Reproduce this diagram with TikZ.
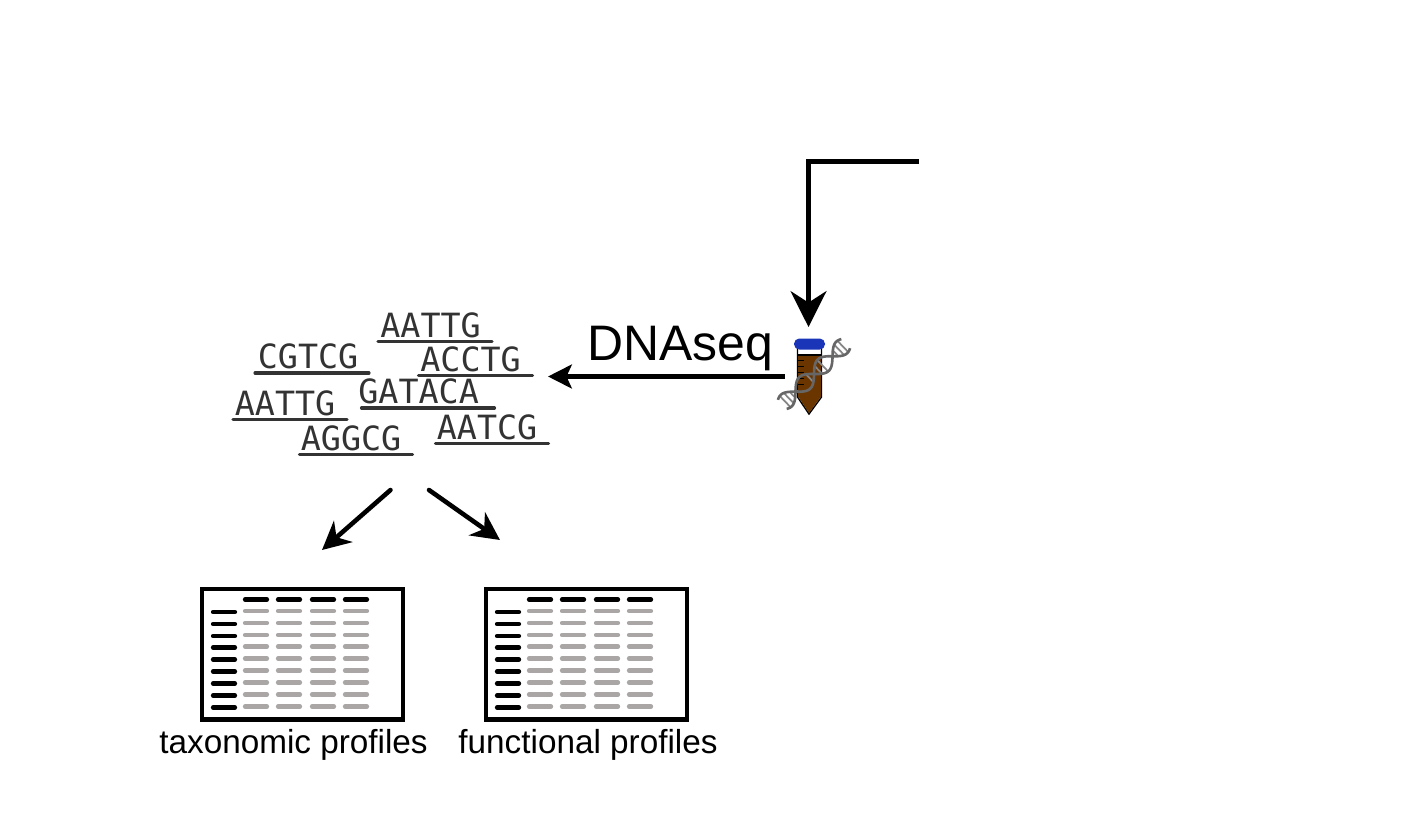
\documentclass[tikz,border=0pt]{standalone}
\usepackage{fontspec}
\setmainfont{Liberation Sans}
\newfontfamily\seqfont{DejaVu Sans Mono}
\usetikzlibrary{arrows.meta,positioning}
\definecolor{capblue}{HTML}{1A35B8}
\definecolor{tubebrown}{HTML}{6B3500}
\definecolor{rowgray}{HTML}{AAA6A6}
\definecolor{helixgray}{HTML}{666666}
\definecolor{seqgray}{HTML}{333333}
\tikzset{
  flow/.style={black,line width=2.6pt,line cap=round},
  rowmark/.style={line width=2.4pt,line cap=round},
  seqtext/.style={inner sep=0pt,anchor=base west,text=seqgray,font=\seqfont\fontsize{19}{19}\selectfont},
  seqline/.style={seqgray,line width=1.8pt,line cap=round},
  caption/.style={inner sep=0pt,anchor=base,font=\fontsize{18.95}{18.95}\selectfont},
  tablebox/.style={draw=black,line width=2.6pt,inner sep=0pt,outer sep=0pt,minimum width=114.5pt,minimum height=74.3pt,anchor=north west}
}
\begin{document}
\begin{tikzpicture}[x=0.02cm,y=-0.02cm]
\useasboundingbox (0,0) rectangle (1405,839);
% top elbow
\coordinate (source) at (919,161.5);
\coordinate (elbow) at (808.5,161.5);
\coordinate (tubetop) at (808.5,327);
\draw [flow,line cap=butt,-{Stealth[length=20.4pt,width=20.4pt,inset=6.5pt]}] (source) -- (elbow) -- (tubetop);
% tube
\draw [black,fill=white,line width=0.8pt] (797.5,345) -- (797.5,397) -- (809,414) -- (821.5,397) -- (821.5,345) -- cycle;
\fill [tubebrown] (798,355) -- (798,396.5) -- (809,413) -- (821,396.5) -- (821,355) -- cycle;
\foreach \y in {360,366,372,378,384} \draw [black,line width=0.5pt] (798,\y) -- (804,\y);
\draw [black,line width=0.8pt] (797.5,355) -- (821.5,355);
\fill [capblue,rounded corners=3pt] (794,338.5) rectangle (825,349.5);
% helix
\foreach \r in {-40,-35,-30,-24,-6,0,6,12,30,35,40}
  \draw [helixgray!80,line width=1pt] ({814+\r*0.72+8*sin(\r*7)*0.69},{374-\r*0.69+8*sin(\r*7)*0.72}) -- ({814+\r*0.72-8*sin(\r*7)*0.69},{374-\r*0.69-8*sin(\r*7)*0.72});
\foreach \s in {1,-1}
  \draw [helixgray,line width=1.5pt] plot [smooth,domain=-44:44,samples=50] ({814+\x*0.72+\s*8*sin(\x*7)*0.69},{374-\x*0.69+\s*8*sin(\x*7)*0.72});
% sequencing arrow
\coordinate (tubeleft) at (785,376.5);
\coordinate (readsright) at (548,376.5);
\draw [flow,line cap=butt,-{Stealth[length=13.5pt,width=13.5pt,inset=3pt]}] (tubeleft) -- (readsright);
\node (dnaseq) [inner sep=0pt,anchor=base,font=\fontsize{28.4}{28.4}\selectfont] at (680,360) {DNAseq};
% reads
\foreach \name/\seq/\xa/\ya/\xb/\yb/\len in {a/AATTG/380/337.5/378/341.5/114,b/CGTCG/257.5/368.5/255/373/114,c/ACCTG/420/371.5/418.5/375.5/114,d/GATACA/358/403.5/361.5/408/133,e/AATTG/234.5/415.5/233/419.5/114,f/AGGCG/300.5/450.5/299.5/454.5/113,g/AATCG/436.5/439.5/435.5/443.5/113}{
  \node (read\name) [seqtext] at (\xa,\ya) {\seq};
  \draw [seqline] (\xb,\yb) -- ++(\len,0);
}
% split
\coordinate (splita) at (390.5,490);
\coordinate (splitb) at (429,490);
\coordinate (taxhead) at (322,550);
\coordinate (funchead) at (500,540);
\draw [flow,-{Stealth[length=16pt,width=16pt,inset=5pt]}] (splita) -- (taxhead);
\draw [flow,-{Stealth[length=16pt,width=16pt,inset=5pt]}] (splitb) -- (funchead);
% tables
\foreach \name/\dx/\cap/\cx in {tax/0/taxonomic profiles/293.5,func/284/functional profiles/588}{
  \node (\name) [tablebox] at (202+\dx,589) {};
  \foreach \c in {245,278,312,345}{
    \draw [rowmark,black] (\c+\dx,599.5) -- +(22,0);
    \foreach \y in {611,623,635,646.5,658.5,670.5,682.5,694.5,706.5}
      \draw [rowmark,rowgray] (\c+\dx,\y) -- +(22,0);
  }
  \foreach \y in {612,624,636,647.5,659.5,671.5,683.5,695.5,707.5}
    \draw [rowmark,black] (213+\dx,\y) -- +(22,0);
  \node (\name label) [caption] at (\cx,753) {\cap};
}
\end{tikzpicture}
\end{document}
